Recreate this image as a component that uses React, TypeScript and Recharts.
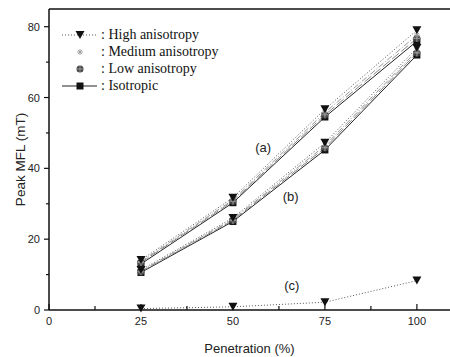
import React from 'react';
import { LineChart, Line, XAxis, YAxis, ReferenceLine, ReferenceDot } from 'recharts';

/* ─── Data ───────────────────────────────────────────── */

const penetration = [25, 50, 75, 100];

// group (a)
const aHigh = [14.1, 31.7, 56.7, 79.0];
const aMedium = [13.7, 31.1, 55.8, 77.6];
const aLow = [13.4, 30.7, 55.1, 76.7];
const aIso = [13.0, 30.3, 54.5, 75.9];

// group (b)
const bHigh = [11.3, 26.0, 47.2, 74.0];
const bMedium = [11.0, 25.6, 46.4, 73.2];
const bLow = [10.8, 25.3, 45.8, 72.6];
const bIso = [10.6, 25.0, 45.2, 72.0];

// group (c)
const cHigh = [0.4, 0.9, 2.2, 8.3];

const xTicks = [0, 12.5, 25, 37.5, 50, 62.5, 75, 87.5, 100];
const xLabels = [0, 25, 50, 75, 100];
const yTicks = [0, 10, 20, 30, 40, 50, 60, 70, 80];
const yLabels = [0, 20, 40, 60, 80];

const legendItems = [
	{ name: 'High anisotropy', kind: 'high' },
	{ name: 'Medium anisotropy', kind: 'medium' },
	{ name: 'Low anisotropy', kind: 'low' },
	{ name: 'Isotropic', kind: 'iso' },
];

const rows = penetration.map((p, i) => ({
	p,
	aHigh: aHigh[i],
	aMedium: aMedium[i],
	aLow: aLow[i],
	aIso: aIso[i],
	bHigh: bHigh[i],
	bMedium: bMedium[i],
	bLow: bLow[i],
	bIso: bIso[i],
	cHigh: cHigh[i],
}));

/* ─── Styles ─────────────────────────────────────────── */

const SANS = '"Liberation Sans", Arial, sans-serif';
const SERIF = '"Liberation Serif", "Times New Roman", serif';

const STYLES: Record<string, { stroke: string; dash?: string }> = {
	high: { stroke: '#555', dash: '1 2' },
	medium: { stroke: '#999', dash: '6 2 1 2' },
	low: { stroke: '#888', dash: '9 3' },
	iso: { stroke: '#222' },
};

/* ─── Markers ────────────────────────────────────────── */

function Marker({ kind, cx, cy }: { kind: string; cx: number; cy: number }) {
	if (kind === 'high') {
		return (
			<polygon
				points={`${cx - 4.5},${cy - 4} ${cx + 4.5},${cy - 4} ${cx},${cy + 4}`}
				fill="#111"
			/>
		);
	}
	if (kind === 'iso') {
		return <rect x={cx - 3.5} y={cy - 3.5} width={7} height={7} fill="#111" />;
	}
	if (kind === 'low') {
		return (
			<g>
				<circle cx={cx} cy={cy} r={3.5} fill="#444" />
				<line x1={cx - 3.5} y1={cy} x2={cx + 3.5} y2={cy} stroke="#aaa" strokeWidth={0.8} />
				<line x1={cx} y1={cy - 3.5} x2={cx} y2={cy + 3.5} stroke="#aaa" strokeWidth={0.8} />
			</g>
		);
	}
	return (
		<g stroke="#999" strokeWidth={0.9}>
			<line x1={cx - 3} y1={cy} x2={cx + 3} y2={cy} />
			<line x1={cx} y1={cy - 3} x2={cx} y2={cy + 3} />
			<line x1={cx - 2.2} y1={cy - 2.2} x2={cx + 2.2} y2={cy + 2.2} />
			<line x1={cx - 2.2} y1={cy + 2.2} x2={cx + 2.2} y2={cy - 2.2} />
		</g>
	);
}

const dotFor = (kind: string) => (props: any) => {
	const { cx, cy, index } = props;
	if (cx == null || cy == null) return <g key={index} />;
	return <Marker key={index} kind={kind} cx={cx} cy={cy} />;
};

/* ─── Ticks ──────────────────────────────────────────── */

function XTick(props: any) {
	const { x, y, payload } = props;
	const major = xLabels.includes(payload.value);
	return (
		<g>
			<line x1={x} y1={y} x2={x} y2={y - (major ? 6 : 4)} stroke="#111" strokeWidth={1.2} />
			{major && (
				<text x={x} y={y + 15} textAnchor="middle" fontFamily={SANS} fontSize={11} fill="#222">
					{payload.value}
				</text>
			)}
		</g>
	);
}

function YTick(props: any) {
	const { x, y, payload } = props;
	const major = yLabels.includes(payload.value);
	return (
		<g>
			<line x1={x - (major ? 5 : 3)} y1={y} x2={x} y2={y} stroke="#111" strokeWidth={1.2} />
			{major && (
				<text x={x - 9} y={y + 4} textAnchor="end" fontFamily={SANS} fontSize={11} fill="#222">
					{payload.value}
				</text>
			)}
		</g>
	);
}

/* ─── Legend ─────────────────────────────────────────── */

function LegendBox() {
	return (
		<div style={{ position: 'absolute', left: 60, top: 26, fontFamily: SERIF, fontSize: 14, color: '#111' }}>
			{legendItems.map((it) => {
				const s = STYLES[it.kind];
				return (
					<div key={it.kind} style={{ display: 'flex', alignItems: 'center', height: 17.2 }}>
						<svg width={40} height={12} style={{ display: 'block' }}>
							{(it.kind === 'high' || it.kind === 'iso') && (
								<line x1={2} y1={6} x2={37} y2={6} stroke={s.stroke} strokeDasharray={s.dash} strokeWidth={1} />
							)}
							<Marker kind={it.kind} cx={20} cy={6} />
						</svg>
						<span style={{ whiteSpace: 'nowrap', marginLeft: 1 }}>: {it.name}</span>
					</div>
				);
			})}
		</div>
	);
}

/* ─── Main ───────────────────────────────────────────── */

const SERIES: { key: string; kind: string }[] = [
	{ key: 'aIso', kind: 'iso' },
	{ key: 'aLow', kind: 'low' },
	{ key: 'aMedium', kind: 'medium' },
	{ key: 'aHigh', kind: 'high' },
	{ key: 'bIso', kind: 'iso' },
	{ key: 'bLow', kind: 'low' },
	{ key: 'bMedium', kind: 'medium' },
	{ key: 'bHigh', kind: 'high' },
	{ key: 'cHigh', kind: 'high' },
];

export default function App() {
	return (
		<div style={{ position: 'fixed', left: 0, top: 0, width: 450, height: 357, background: '#fff' }}>
			<LineChart width={450} height={357} data={rows} margin={{ top: 9, right: 0, left: 0, bottom: 0 }}>
				<XAxis
					dataKey="p"
					type="number"
					domain={[0, 109]}
					ticks={xTicks}
					interval={0}
					tick={<XTick />}
					tickSize={0}
					tickMargin={0}
					tickLine={false}
					axisLine={{ stroke: '#111', strokeWidth: 1.3 }}
					height={47}
					label={{
						value: 'Penetration (%)',
						position: 'insideBottom',
						offset: 4,
						style: { fontFamily: SANS, fontSize: 13, fill: '#222' },
					}}
				/>
				<YAxis
					type="number"
					domain={[0, 85]}
					ticks={yTicks}
					interval={0}
					tick={<YTick />}
					tickSize={0}
					tickMargin={0}
					tickLine={false}
					axisLine={{ stroke: '#111', strokeWidth: 1.5 }}
					width={49}
					label={{
						value: 'Peak MFL (mT)',
						angle: -90,
						position: 'insideLeft',
						offset: 20,
						style: { fontFamily: SANS, fontSize: 13.5, fill: '#222', textAnchor: 'middle' },
					}}
				/>
				<ReferenceLine y={85} stroke="#111" strokeWidth={1.5} />

				{SERIES.map((s) => (
					<Line
						key={s.key}
						type="linear"
						dataKey={s.key}
						stroke={STYLES[s.kind].stroke}
						strokeDasharray={STYLES[s.kind].dash}
						strokeWidth={1}
						dot={dotFor(s.kind)}
						activeDot={false}
						isAnimationActive={false}
					/>
				))}

				<ReferenceDot x={58.2} y={46} r={0} stroke="none" fill="none"
					label={{ value: '(a)', position: 'center', style: { fontFamily: SANS, fontSize: 13, fill: '#222' } }} />
				<ReferenceDot x={65.7} y={32} r={0} stroke="none" fill="none"
					label={{ value: '(b)', position: 'center', style: { fontFamily: SANS, fontSize: 13, fill: '#222' } }} />
				<ReferenceDot x={66} y={6.9} r={0} stroke="none" fill="none"
					label={{ value: '(c)', position: 'center', style: { fontFamily: SANS, fontSize: 13, fill: '#222' } }} />
			</LineChart>
			<LegendBox />
		</div>
	);
}
